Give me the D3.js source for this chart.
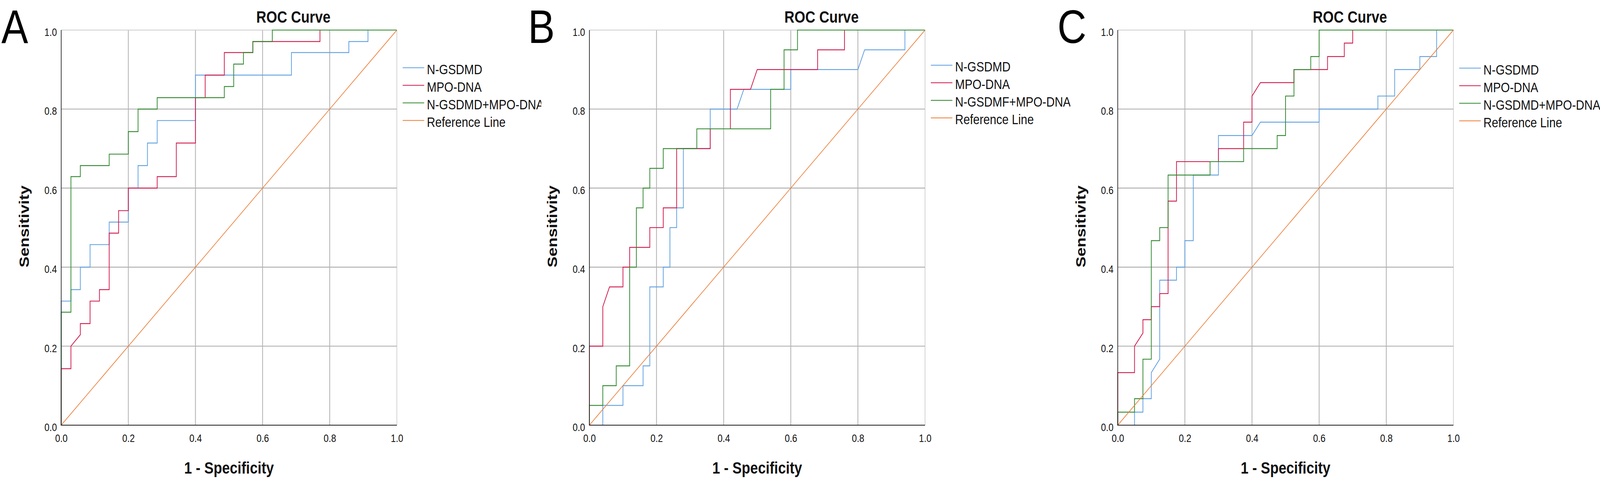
<!DOCTYPE html>
<html>
<head>
<meta charset="utf-8">
<script src="https://cdn.jsdelivr.net/npm/d3@7"></script>
<style>
  html, body { margin: 0; padding: 0; background: #ffffff; overflow: hidden; }
  svg { display: block; width: 100vw; height: 100vh; }
  svg text { font-family: "Liberation Sans", Arial, sans-serif; }
</style>
</head>
<body>
<script>
// ---------------- DATA ----------------
const panelLetters = ["A", "B", "C"];
const titleText = "ROC Curve";
const xAxisLabel = "1 - Specificity";
const yAxisLabel = "Sensitivity";
const tickValues = [0, 0.2, 0.4, 0.6, 0.8, 1.0];

const seriesNamesA = ["N-GSDMD", "MPO-DNA", "N-GSDMD+MPO-DNA", "Reference Line"];
const seriesNamesB = ["N-GSDMD", "MPO-DNA", "N-GSDMF+MPO-DNA", "Reference Line"];
const seriesNamesC = ["N-GSDMD", "MPO-DNA", "N-GSDMD+MPO-DNA", "Reference Line"];

// Reference line (chance diagonal)
const refFpr = [0, 1];
const refTpr = [0, 1];

// Panel A
const A_ngsdmd_fpr = [0,0,0.029,0.029,0.057,0.057,0.086,0.086,0.143,0.143,0.2,0.2,0.229,0.229,0.257,0.257,0.286,0.286,0.4,0.4,0.686,0.686,0.857,0.857,0.914,0.914,1];
const A_ngsdmd_tpr = [0,0.314,0.314,0.343,0.343,0.4,0.4,0.457,0.457,0.514,0.514,0.6,0.6,0.657,0.657,0.714,0.714,0.771,0.771,0.886,0.886,0.943,0.943,0.971,0.971,1,1];
const A_mpodna_fpr = [0,0,0.029,0.029,0.057,0.057,0.086,0.086,0.114,0.114,0.143,0.143,0.171,0.171,0.2,0.2,0.286,0.286,0.343,0.343,0.4,0.4,0.429,0.429,0.486,0.486,0.571,0.571,0.771,0.771,1];
const A_mpodna_tpr = [0,0.143,0.143,0.2,0.229,0.257,0.257,0.314,0.314,0.343,0.343,0.486,0.486,0.543,0.543,0.6,0.6,0.629,0.629,0.714,0.714,0.829,0.829,0.886,0.886,0.943,0.943,0.971,0.971,1,1];
const A_combo_fpr = [0,0,0.029,0.029,0.057,0.057,0.143,0.143,0.2,0.2,0.229,0.229,0.286,0.286,0.486,0.486,0.514,0.514,0.543,0.543,0.571,0.571,0.629,0.629,1];
const A_combo_tpr = [0,0.286,0.286,0.629,0.629,0.657,0.657,0.686,0.686,0.743,0.743,0.8,0.8,0.829,0.829,0.857,0.857,0.914,0.914,0.943,0.943,0.971,0.971,1,1];

// Panel B
const B_ngsdmd_fpr = [0,0.04,0.04,0.1,0.1,0.16,0.16,0.18,0.18,0.22,0.22,0.24,0.24,0.26,0.26,0.28,0.28,0.36,0.36,0.44,0.46,0.6,0.6,0.8,0.82,0.94,0.94,1];
const B_ngsdmd_tpr = [0,0,0.05,0.05,0.1,0.1,0.15,0.15,0.35,0.35,0.4,0.4,0.5,0.5,0.55,0.55,0.7,0.7,0.8,0.8,0.85,0.85,0.9,0.9,0.95,0.95,1,1];
const B_mpodna_fpr = [0,0,0.04,0.04,0.06,0.1,0.1,0.12,0.12,0.18,0.18,0.22,0.22,0.26,0.26,0.36,0.36,0.42,0.42,0.48,0.5,0.68,0.68,0.76,0.76,1];
const B_mpodna_tpr = [0,0.2,0.2,0.3,0.35,0.35,0.4,0.4,0.45,0.45,0.5,0.5,0.55,0.55,0.7,0.7,0.75,0.75,0.85,0.85,0.9,0.9,0.95,0.95,1,1];
const B_combo_fpr = [0,0,0.04,0.04,0.08,0.08,0.12,0.12,0.14,0.14,0.16,0.16,0.18,0.18,0.22,0.22,0.32,0.32,0.54,0.54,0.58,0.58,0.62,0.62,1];
const B_combo_tpr = [0,0.05,0.05,0.1,0.1,0.15,0.15,0.4,0.4,0.55,0.55,0.6,0.6,0.65,0.65,0.7,0.7,0.75,0.75,0.85,0.85,0.95,0.95,1,1];

// Panel C
const C_ngsdmd_fpr = [0,0.05,0.05,0.075,0.075,0.1,0.1,0.125,0.125,0.175,0.175,0.2,0.2,0.225,0.225,0.3,0.3,0.4,0.425,0.6,0.6,0.775,0.775,0.825,0.825,0.9,0.9,0.95,0.95,1];
const C_ngsdmd_tpr = [0,0,0.033,0.033,0.067,0.067,0.133,0.167,0.367,0.367,0.4,0.4,0.467,0.467,0.633,0.633,0.733,0.733,0.767,0.767,0.8,0.8,0.833,0.833,0.9,0.9,0.933,0.933,1,1];
const C_mpodna_fpr = [0,0,0.05,0.05,0.075,0.075,0.1,0.1,0.125,0.125,0.15,0.15,0.175,0.175,0.3,0.3,0.375,0.375,0.4,0.4,0.425,0.525,0.525,0.625,0.625,0.675,0.675,0.7,0.7,1];
const C_mpodna_tpr = [0,0.133,0.133,0.2,0.233,0.267,0.267,0.3,0.3,0.333,0.333,0.567,0.567,0.667,0.667,0.7,0.7,0.767,0.767,0.833,0.867,0.867,0.9,0.9,0.933,0.933,0.967,0.967,1,1];
const C_combo_fpr = [0,0,0.05,0.05,0.075,0.075,0.1,0.1,0.125,0.125,0.15,0.15,0.275,0.275,0.375,0.375,0.475,0.475,0.5,0.5,0.525,0.525,0.575,0.575,0.6,0.6,1];
const C_combo_tpr = [0,0.033,0.033,0.067,0.067,0.167,0.167,0.467,0.467,0.5,0.5,0.633,0.633,0.667,0.667,0.7,0.7,0.733,0.733,0.833,0.833,0.9,0.9,0.933,0.933,1,1];

// ---------------- STYLE / LAYOUT ----------------
const seriesColors = ["#5e9fe0", "#d0164a", "#2c872c", "#ec7a34"];
const seriesWidths = [2.2, 2.2, 2.2, 1.8];

const W = 4824, H = 1232;
const plotW = 1012, plotTop = 77, plotBottom = 1089;
const layout = [
  { left: 184.5, letterX: 4,    legendTop: 173.5, clipRight: 1632 },
  { left: 1777,  letterX: 1592, legendTop: 167,   clipRight: 3227 },
  { left: 3370,  letterX: 3188, legendTop: 174.5, clipRight: 4824 }
];

const panels = [
  { letter: panelLetters[0], names: seriesNamesA,
    curves: [[A_ngsdmd_fpr, A_ngsdmd_tpr], [A_mpodna_fpr, A_mpodna_tpr], [A_combo_fpr, A_combo_tpr], [refFpr, refTpr]] },
  { letter: panelLetters[1], names: seriesNamesB,
    curves: [[B_ngsdmd_fpr, B_ngsdmd_tpr], [B_mpodna_fpr, B_mpodna_tpr], [B_combo_fpr, B_combo_tpr], [refFpr, refTpr]] },
  { letter: panelLetters[2], names: seriesNamesC,
    curves: [[C_ngsdmd_fpr, C_ngsdmd_tpr], [C_mpodna_fpr, C_mpodna_tpr], [C_combo_fpr, C_combo_tpr], [refFpr, refTpr]] }
];

// ---------------- DRAW ----------------
const svg = d3.select("body").append("svg")
  .attr("viewBox", `0 0 ${W} ${H}`)
  .attr("preserveAspectRatio", "none");
svg.append("rect").attr("width", W).attr("height", H).attr("fill", "#ffffff");

const fmt = d3.format(".1f");

panels.forEach((p, pi) => {
  const L = layout[pi];
  const x = d3.scaleLinear().domain([0, 1]).range([L.left, L.left + plotW]);
  const y = d3.scaleLinear().domain([0, 1]).range([plotBottom, plotTop]);
  const g = svg.append("g");

  // gridlines
  const gridVals = tickValues.filter(v => v > 0);
  g.selectAll(".vgrid").data(gridVals).enter().append("line")
    .attr("x1", d => x(d)).attr("x2", d => x(d))
    .attr("y1", y(0)).attr("y2", y(1))
    .attr("stroke", d => d === 1 ? "#cdcdcd" : "#b2b2b2")
    .attr("stroke-width", d => d === 1 ? 2 : 2.4);
  g.selectAll(".hgrid").data(gridVals).enter().append("line")
    .attr("y1", d => y(d)).attr("y2", d => y(d))
    .attr("x1", x(0)).attr("x2", x(1))
    .attr("stroke", d => d === 1 ? "#cdcdcd" : "#b2b2b2")
    .attr("stroke-width", d => d === 1 ? 2 : 2.4);

  // axes (tick labels)
  const yAxis = d3.axisLeft(y).tickValues(tickValues).tickSize(0).tickPadding(13).tickFormat(fmt);
  const xAxis = d3.axisBottom(x).tickValues(tickValues).tickSize(0).tickPadding(24).tickFormat(fmt);
  const ya = g.append("g").attr("transform", `translate(${x(0)},0)`).call(yAxis);
  const xa = g.append("g").attr("transform", `translate(0,${y(0)})`).call(xAxis);
  [ya, xa].forEach(a => {
    a.select(".domain").remove();
    a.selectAll("text")
      .attr("font-family", "'Liberation Sans', Arial, sans-serif")
      .attr("font-size", 27).attr("fill", "#111");
  });
  ya.selectAll("text").attr("dy", "0.54em");
  xa.selectAll("text").attr("dy", "0.71em");

  // curves
  const line = d3.line().x(d => x(d[0])).y(d => y(d[1]));
  p.curves.forEach((c, ci) => {
    g.append("path")
      .datum(d3.zip(c[0], c[1]))
      .attr("d", line)
      .attr("fill", "none")
      .attr("stroke", seriesColors[ci])
      .attr("stroke-width", seriesWidths[ci])
      .attr("stroke-linejoin", "miter");
  });

  // axis lines
  g.append("line").attr("x1", x(0)).attr("x2", x(0)).attr("y1", y(0) + 1).attr("y2", y(1))
    .attr("stroke", "#1a1a1a").attr("stroke-width", 2);
  g.append("line").attr("x1", x(0) - 1).attr("x2", x(1)).attr("y1", y(0)).attr("y2", y(0))
    .attr("stroke", "#1a1a1a").attr("stroke-width", 2.2);

  // title and axis labels
  g.append("text").attr("x", L.left + 700).attr("y", 58)
    .attr("text-anchor", "middle").attr("font-weight", "bold").attr("font-size", 42)
    .attr("fill", "#111").text(titleText);
  g.append("text").attr("x", L.left + plotW / 2).attr("y", 1213)
    .attr("text-anchor", "middle").attr("font-weight", "bold").attr("font-size", 42)
    .attr("fill", "#111").text(xAxisLabel);
  g.append("text")
    .attr("transform", `translate(${L.left - 97},${(plotTop + plotBottom) / 2 - 3}) rotate(-90)`)
    .attr("text-anchor", "middle").attr("font-weight", "bold").attr("font-size", 42)
    .attr("fill", "#111").text(yAxisLabel);

  // legend (clipped at the panel edge as in the original)
  const clipId = "legclip" + pi;
  svg.append("clipPath").attr("id", clipId).append("rect")
    .attr("x", L.left + 1000).attr("y", 0)
    .attr("width", L.clipRight - (L.left + 1000)).attr("height", H);
  const lg = g.append("g").attr("clip-path", `url(#${clipId})`);
  p.names.forEach((n, i) => {
    const yy = L.legendTop + i * 45;
    lg.append("line")
      .attr("x1", L.left + 1029.5).attr("x2", L.left + 1094.5)
      .attr("y1", yy).attr("y2", yy)
      .attr("stroke", seriesColors[i]).attr("stroke-width", 2.2);
    lg.append("text")
      .attr("x", L.left + 1102.5).attr("y", yy + 16.5)
      .attr("font-size", 35).attr("fill", "#111").text(n);
  });

  // panel letter (kept fully inside the top edge)
  svg.append("text").attr("x", L.letterX).attr("y", 110)
    .attr("font-size", 121).attr("fill", "#000").text(p.letter);
});
</script>
</body>
</html>
